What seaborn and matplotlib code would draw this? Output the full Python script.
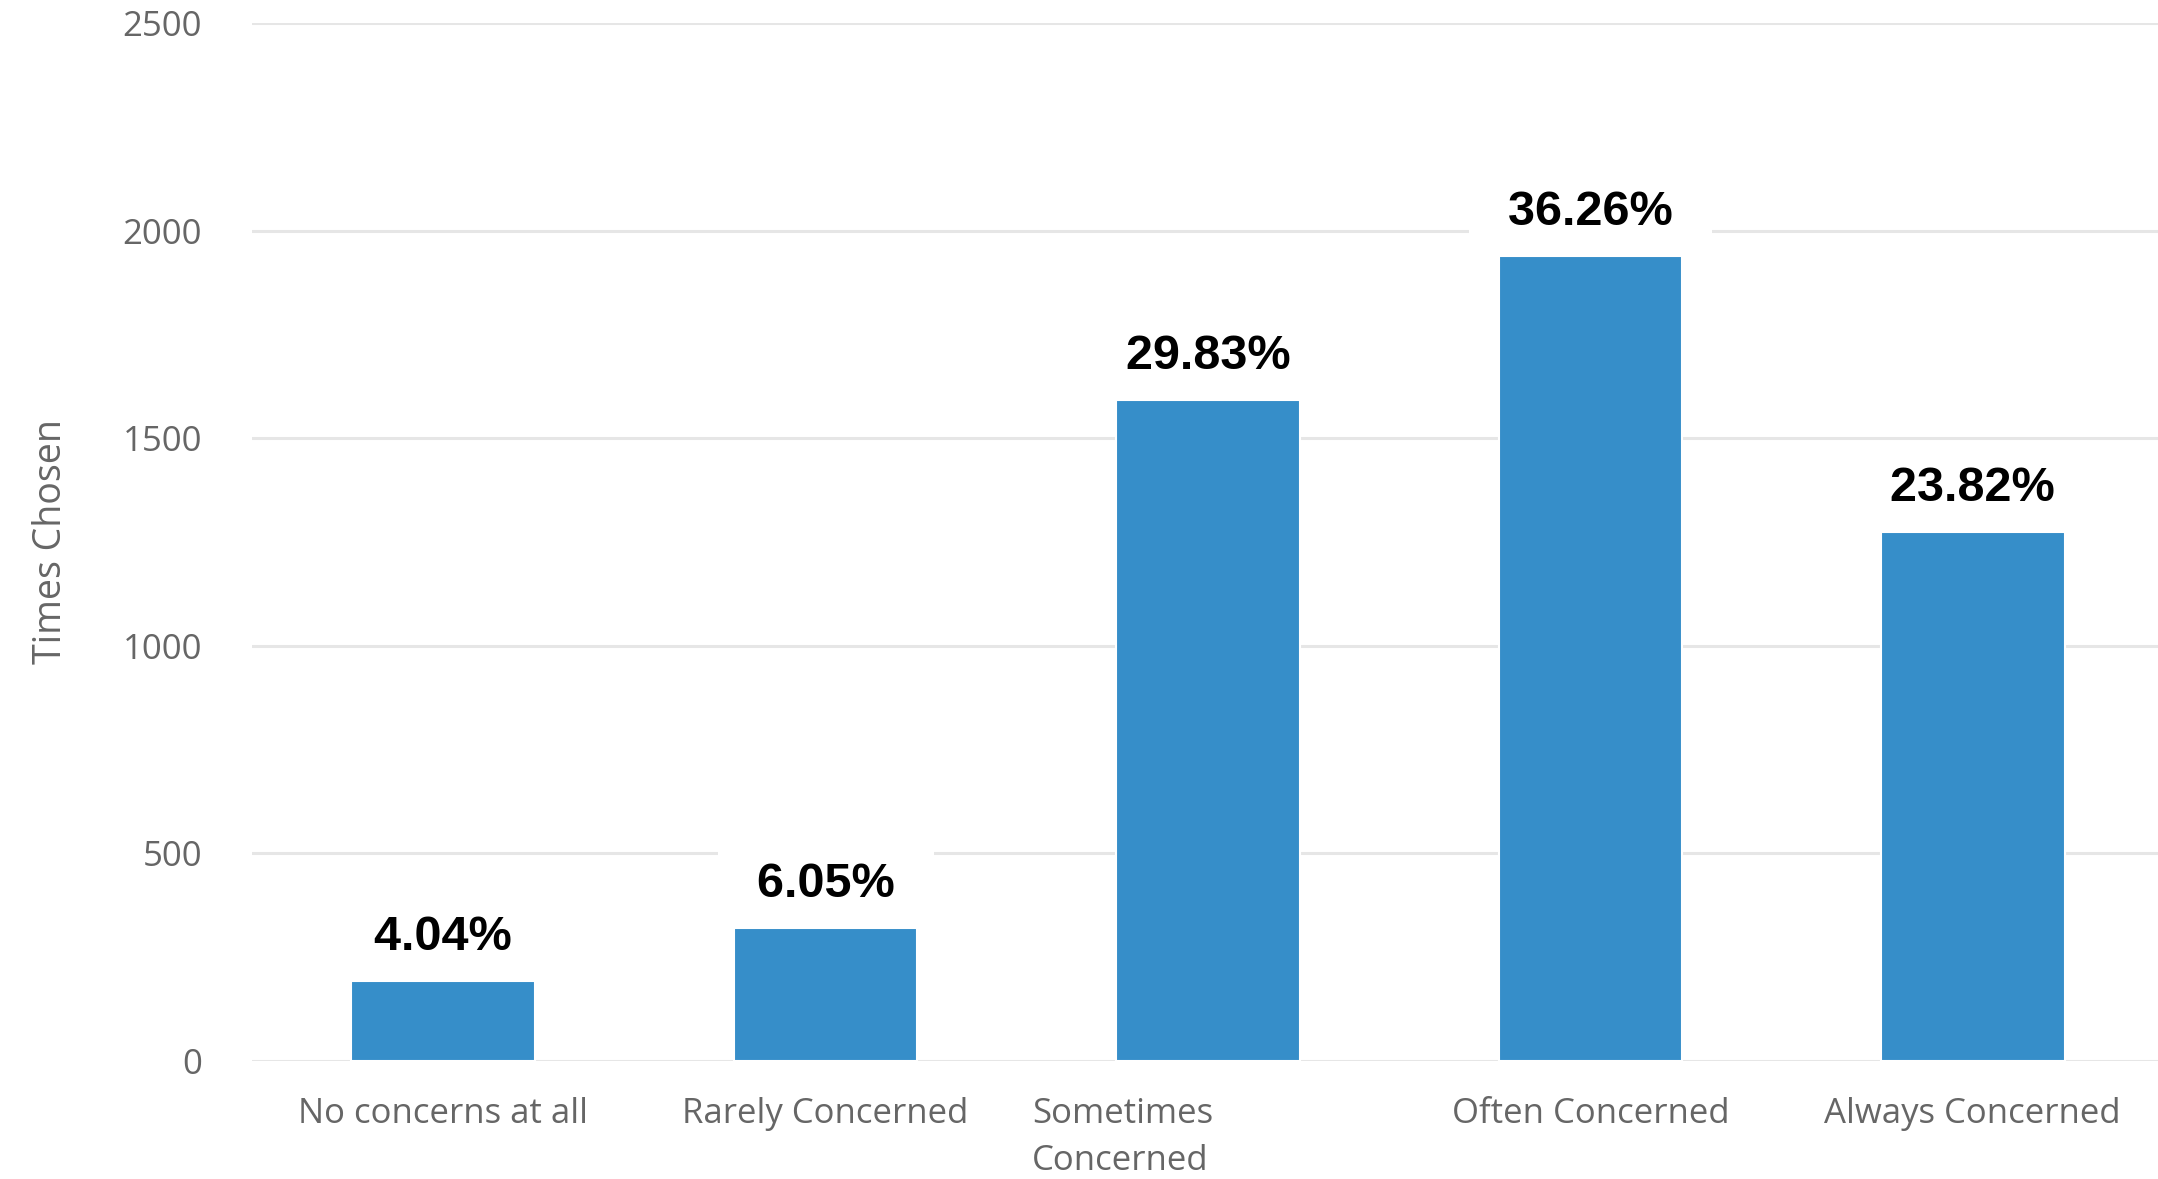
import matplotlib
matplotlib.use('Agg')
import matplotlib.pyplot as plt
import matplotlib.transforms as mtransforms
import seaborn as sns

# Data
categories = ['No concerns at all', 'Rarely Concerned', 'Sometimes\nConcerned',
              'Often Concerned', 'Always Concerned']
times_chosen = [193, 321, 1592, 1940, 1274]
pct_labels = ['4.04%', '6.05%', '29.83%', '36.26%', '23.82%']
y_ticks = [0, 500, 1000, 1500, 2000, 2500]

bar_color = '#368EC9'
grid_color = '#E6E6E6'
tick_color = '#666666'

sns.set_theme(style='white')
plt.rcParams['font.family'] = ['Open Sans', 'DejaVu Sans']

W, H = 2158, 1179
fig = plt.figure(figsize=(W / 100, H / 100), dpi=100)
ax = fig.add_axes([252 / W, 118 / H, (2164 - 252) / W, (1061 - 23) / H])

sns.barplot(x=categories, y=times_chosen, color=bar_color, width=0.48,
            saturation=1, edgecolor='white', linewidth=1.5, ax=ax, zorder=2)

ax.set_xlim(-0.5, 4.5)
ax.set_ylim(0, 2500)
ax.set_yticks(y_ticks)
ax.set_yticklabels([str(t) for t in y_ticks])

# Grid styling
ax.set_axisbelow(True)
ax.yaxis.grid(True, color=grid_color, linewidth=2.2)
ax.xaxis.grid(False)
for s in ax.spines.values():
    s.set_visible(False)

ax.tick_params(axis='y', length=0, pad=36, labelsize=25, labelcolor=tick_color)
ax.tick_params(axis='x', length=0, pad=26, labelsize=25, labelcolor=tick_color)

# Wrapped label sits left-aligned as in the original
lbl = ax.get_xticklabels()[2]
lbl.set_horizontalalignment('left')
lbl.set_multialignment('left')
lbl.set_linespacing(1.5)
lbl.set_transform(lbl.get_transform() +
                  mtransforms.ScaledTranslation(-1.76, 0, fig.dpi_scale_trans))

ax.set_xlabel('')
ax.set_ylabel('Times Chosen', fontsize=27, color=tick_color)
ax.yaxis.set_label_coords(-0.095, 0.5)

# Percentage labels above bars
for i, (v, p) in enumerate(zip(times_chosen, pct_labels)):
    ax.annotate('  ' + p + '  ', xy=(i, v), xytext=(0, 22), textcoords='offset points',
                ha='center', va='baseline', fontsize=35, fontweight='bold',
                family='Liberation Sans', color='black', zorder=5,
                bbox=dict(boxstyle='square,pad=0.25', fc='white', ec='none'))

plt.savefig('out.png', dpi=100)
